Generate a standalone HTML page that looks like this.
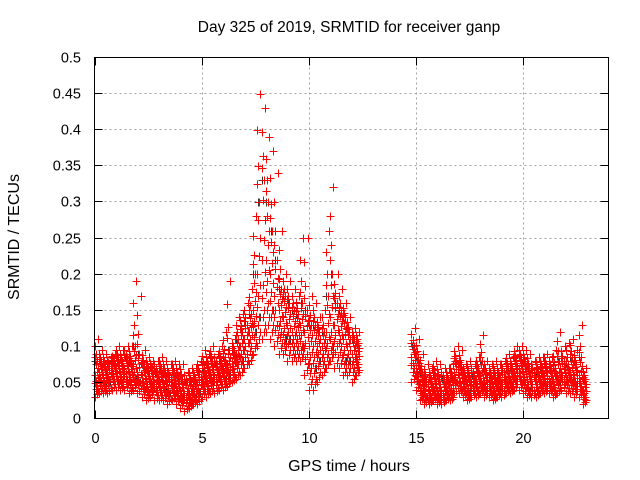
<!DOCTYPE html>
<html><head><meta charset="utf-8"><style>
body{margin:0;background:#fff}
svg{display:block;font-family:"Liberation Sans",sans-serif}
</style></head><body>
<svg id="chart" width="640" height="480" viewBox="0 0 640 480" xmlns="http://www.w3.org/2000/svg">
<rect width="640" height="480" fill="#fff"/>
<text x="349" y="32" font-size="15.5" text-anchor="middle" fill="#000">Day 325 of 2019, SRMTID for receiver ganp</text>
<g id="grid"></g>
<g id="dark"></g>
<g id="red"></g>
<g id="axes"></g>
<rect x="94.5" y="57.5" width="514" height="361" fill="none" stroke="#000" stroke-width="1"/>
<text x="349" y="471" font-size="16" text-anchor="middle">GPS time / hours</text>
<text x="19" y="237" font-size="16" text-anchor="middle" transform="rotate(-90 19 237)">SRMTID / TECUs</text>
</svg>
<script>
// Data (values in thousandths of TECU)
const times=[0,0.2,0.4,0.6,0.8,1,1.2,1.4,1.6,1.8,2,2.2,2.4,2.6,2.8,3,3.2,3.4,3.6,3.8,4,4.2,4.4,4.6,4.8,5,5.2,5.4,5.6,5.8,6,6.2,6.4,6.6,6.8,7,7.2,7.4,7.6,7.8,8,8.2,8.4,8.6,8.8,9,9.2,9.4,9.6,9.8,10,10.2,10.4,10.6,10.8,11,11.2,11.4,11.6,11.8,12,12.2,
14.8,15,15.2,15.4,15.6,15.8,16,16.2,16.4,16.6,16.8,17,17.2,17.4,17.6,17.8,18,18.2,18.4,18.6,18.8,19,19.2,19.4,19.6,19.8,20,20.2,20.4,20.6,20.8,21,21.2,21.4,21.6,21.8,22,22.2,22.4,22.6,22.8];
const v1=[30,35,35,35,40,40,40,40,35,40,35,30,25,30,25,25,25,20,25,20,15,10,15,20,20,30,30,35,35,40,40,45,50,55,60,70,75,90,100,110,120,110,100,90,90,80,80,80,80,60,40,40,50,60,70,80,70,70,60,60,50,60,
50,40,25,20,20,25,20,20,25,25,35,35,30,25,30,30,35,30,30,25,30,30,35,35,40,40,35,30,30,30,35,35,35,30,35,40,35,35,30,30,20];
const v2=[45,50,45,50,55,55,50,55,50,55,50,45,40,45,40,40,40,35,40,35,30,25,25,30,35,45,45,50,50,55,55,60,65,75,80,90,100,120,140,150,160,150,130,120,110,110,100,100,100,90,70,70,80,80,90,100,100,100,80,80,70,75,
70,55,35,30,30,35,30,30,35,35,50,45,40,35,40,40,45,40,40,35,40,40,45,45,55,55,50,40,40,40,45,45,45,40,50,55,50,50,45,45,30];
const v3=[60,65,60,65,70,70,65,70,65,75,65,60,55,55,50,55,50,50,50,45,40,35,35,45,50,55,60,65,60,65,70,75,80,90,100,110,120,150,200,220,220,200,170,150,140,130,120,120,130,120,100,100,100,100,120,140,130,120,110,100,90,90,
85,70,50,45,40,45,40,40,45,50,65,60,50,50,50,55,60,50,50,45,50,50,55,55,65,70,65,55,55,55,55,60,55,55,60,65,60,65,60,60,40];
const v4=[80,80,75,75,80,85,80,85,80,100,90,75,70,70,65,70,65,60,65,60,55,50,50,55,65,70,75,80,75,80,85,95,95,110,120,130,145,200,300,330,300,260,220,180,170,160,150,145,160,150,130,130,120,120,170,200,160,150,140,120,110,105,
100,85,65,55,55,60,55,55,55,60,80,75,60,60,60,70,80,65,60,60,60,65,70,70,80,85,80,70,65,65,70,75,70,70,80,80,75,85,75,85,55];
const v5=[110,95,90,85,90,100,95,100,100,190,170,95,85,80,80,85,80,75,80,75,75,65,70,70,80,95,90,100,90,100,120,190,110,140,145,160,180,280,450,430,390,370,340,260,200,190,180,170,250,250,170,160,140,150,260,320,200,180,160,140,125,120,
125,110,90,75,70,80,75,70,70,75,100,95,75,80,75,85,115,80,75,80,75,80,90,85,100,100,95,90,80,85,85,90,85,95,120,100,105,110,95,130,70];
const xTicks=[0,5,10,15,20];
const yTicks=[0,0.05,0.1,0.15,0.2,0.25,0.3,0.35,0.4,0.45,0.5];
const yTickLabels=["0","0.05","0.1","0.15","0.2","0.25","0.3","0.35","0.4","0.45","0.5"];

const L=94.5,R=608.5,T=57.5,B=418.5;
const xs=t=>L+(t/24)*(R-L);
const ys=v=>B-(v/0.5)*(B-T);
const NS="http://www.w3.org/2000/svg";
const mk=(tag,attrs,parent)=>{const e=document.createElementNS(NS,tag);for(const k in attrs)e.setAttribute(k,attrs[k]);parent.appendChild(e);return e;};
const grid=document.getElementById('grid'),axes=document.getElementById('axes');
xTicks.forEach((t,i)=>{
  const x=Math.round(xs(t))+0.5;
  if(i>0){const g=mk('line',{x1:x,x2:x,y1:T,y2:B,stroke:'#a0a0a0','stroke-dasharray':'2,3'},grid);
  
  }
  const a=mk('line',{x1:x,x2:x,y1:B,y2:B-8,stroke:'#000'},axes);
  
  
  const b=mk('line',{x1:x,x2:x,y1:T,y2:T+8,stroke:'#000'},axes);
  
  
  const tx=mk('text',{x:x,y:443,'font-size':14.5,'text-anchor':'middle'},axes);
  tx.textContent=String(t);
  
  
});
yTicks.forEach((v,i)=>{
  const y=Math.round(ys(v)-0.5)+0.5;
  if(i>0&&i<yTicks.length-1){const g=mk('line',{x1:L,x2:R,y1:y,y2:y,stroke:'#a0a0a0','stroke-dasharray':'2,3'},grid);
  
  }
  const a=mk('line',{x1:L,x2:L+8,y1:y,y2:y,stroke:'#000'},axes);
  
  
  const b=mk('line',{x1:R,x2:R-8,y1:y,y2:y,stroke:'#000'},axes);
  
  
  const tx=mk('text',{x:81,y:y+5,'font-size':14.5,'text-anchor':'end'},axes);
  tx.textContent=yTickLabels[i];
  
  
});
function plus(g,t,v,color){
  const x=Math.round(xs(t))+0.5,y=Math.round(ys(v))+0.5;
  const p=mk('path',{d:`M${x-4} ${y}H${x+4}M${x} ${y-4}V${y+4}`,stroke:color,'stroke-width':1,fill:'none'},g);
  
  
}
const dark=document.getElementById('dark'),red=document.getElementById('red');
times.forEach((t,i)=>{
  plus(dark,t+0.12,v2[i]/1000,'#333');
  plus(dark,t+0.02,v4[i]/1000,'#333');
});
times.forEach((t,i)=>{
  const lv=[v1[i],(v1[i]+v2[i])/2,v2[i],(v2[i]+v3[i])/2,v3[i],(v3[i]+v4[i])/2,v4[i],(v4[i]*2+v5[i])/3,(v4[i]+v5[i]*2)/3,v5[i]];
  lv.forEach((v,j)=>{
    plus(red,t+((j*3)%4)*0.05,v/1000,'#f00');
    if(j<7) plus(red,t+((j*3+2)%4)*0.05,(v+(lv[j+1]-v)*0.5)/1000,'#f00');
  });
});
</script>
</body></html>
